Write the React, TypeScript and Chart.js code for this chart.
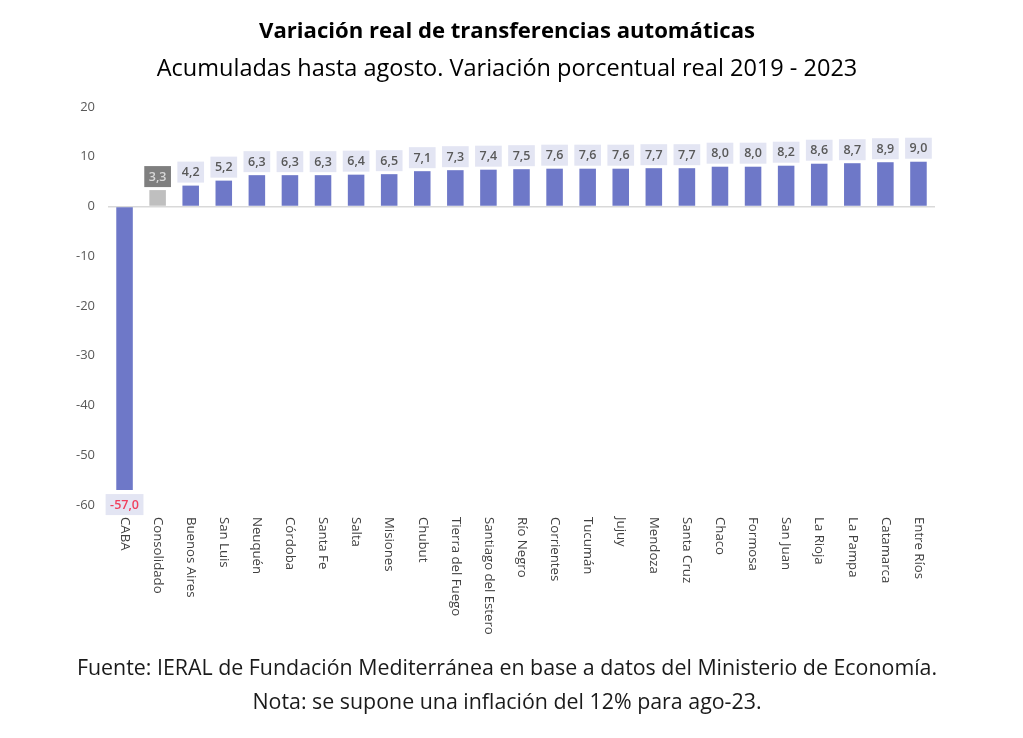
import React, { useEffect, useRef } from "react";
import { Chart, registerables } from "chart.js";

Chart.register(...registerables);

const categories = [
  "CABA", "Consolidado", "Buenos Aires", "San Luis", "Neuquén", "Córdoba", "Santa Fe", "Salta",
  "Misiones", "Chubut", "Tierra del Fuego", "Santiago del Estero", "Río Negro", "Corrientes",
  "Tucumán", "Jujuy", "Mendoza", "Santa Cruz", "Chaco", "Formosa", "San Juan", "La Rioja",
  "La Pampa", "Catamarca", "Entre Ríos",
];
const values = [
  -57.0, 3.3, 4.2, 5.2, 6.3, 6.3, 6.3, 6.4, 6.5, 7.1, 7.3, 7.4, 7.5, 7.6, 7.6, 7.6, 7.7, 7.7,
  8.0, 8.0, 8.2, 8.6, 8.7, 8.9, 9.0,
];
const yTicks = [20, 10, 0, -10, -20, -30, -40, -50, -60];
const title = "Variación real de transferencias automáticas";
const subtitle = "Acumuladas hasta agosto. Variación porcentual real 2019 - 2023";
const footLines = [
  "Fuente: IERAL de Fundación Mediterránea en base a datos del Ministerio de Economía.",
  "Nota: se supone una inflación del 12% para ago-23.",
];

const FONT = "'Open Sans', Lato, sans-serif";
const BAR = "#6e78c8";
const GREY_BAR = "#bfbfbf";

function fitFont(ctx: CanvasRenderingContext2D, text: string, target: number, weight: string) {
  ctx.font = `${weight} 20px ${FONT}`;
  const w = ctx.measureText(text).width;
  const size = (20 * target) / w;
  ctx.font = `${weight} ${size.toFixed(2)}px ${FONT}`;
}

export default function App() {
  const ref = useRef<HTMLCanvasElement | null>(null);

  useEffect(() => {
    document.body.style.margin = "0";
    const canvas = ref.current;
    if (!canvas) return;

    const overlay = {
      id: "overlay",
      afterDraw(chart: any) {
        const ctx = chart.ctx as CanvasRenderingContext2D;
        const xs = chart.scales.x;
        const meta = chart.getDatasetMeta(0);
        ctx.save();
        // titles
        ctx.fillStyle = "#000";
        ctx.textAlign = "center";
        ctx.textBaseline = "middle";
        fitFont(ctx, title, 496, "bold");
        ctx.fillText(title, 507, 32);
        fitFont(ctx, subtitle, 701, "normal");
        ctx.fillText(subtitle, 507, 69);
        ctx.fillStyle = "#1a1a1a";
        fitFont(ctx, footLines[0], 861, "normal");
        ctx.fillText(footLines[0], 507, 669);
        ctx.fillText(footLines[1], 507, 703);

        // rotated category labels
        ctx.fillStyle = "#404040";
        ctx.font = `13.2px ${FONT}`;
        categories.forEach((c, i) => {
          const x = xs.getPixelForValue(i);
          ctx.save();
          ctx.translate(x, chart.chartArea.bottom + 12);
          ctx.rotate(Math.PI / 2);
          ctx.textAlign = "left";
          ctx.textBaseline = "middle";
          ctx.fillText(c, 0, 0);
          ctx.restore();
        });

        // data labels
        ctx.font = `600 12.5px ${FONT}`;
        meta.data.forEach((bar: any, i: number) => {
          const v = values[i];
          const txt = v.toFixed(1).replace(".", ",");
          const w = ctx.measureText(txt).width + 9;
          const h = 21;
          let top: number;
          if (v < 0) top = bar.y + 4;
          else top = bar.y - 3 - h;
          let bg = "#e3e5f3";
          let fg = "#595959";
          if (i === 1) { bg = "#7f7f7f"; fg = "#d9d9d9"; }
          if (v < 0) { fg = "#f0405e"; }
          ctx.fillStyle = bg;
          ctx.fillRect(bar.x - w / 2, top, w, h);
          ctx.fillStyle = fg;
          ctx.textAlign = "center";
          ctx.textBaseline = "middle";
          ctx.fillText(txt, bar.x, top + h / 2 + 0.5);
        });
        ctx.restore();
      },
    };

    const chart = new Chart(canvas, {
      type: "bar",
      data: {
        labels: categories,
        datasets: [
          {
            data: values,
            backgroundColor: values.map((_, i) => (i === 1 ? GREY_BAR : BAR)),
            categoryPercentage: 1,
            barPercentage: 0.5,
          },
        ],
      },
      options: {
        responsive: false,
        animation: false,
        layout: { padding: { top: 107, right: 88, left: 0, bottom: 0 } },
        plugins: { legend: { display: false }, tooltip: { enabled: false }, title: { display: false } },
        scales: {
          x: {
            ticks: { display: false },
            grid: { display: false },
            border: { display: false },
            afterFit: (s: any) => { s.height = 233; },
          },
          y: {
            min: -60,
            max: 20,
            afterBuildTicks: (s: any) => { s.ticks = yTicks.map((v) => ({ value: v })); },
            ticks: {
              color: "#595959",
              font: { family: FONT, size: 13 },
              padding: 13,
              callback: (v: any) => String(v),
            },
            grid: {
              drawTicks: false,
              color: (c: any) => (c.tick && c.tick.value === 0 ? "#d9d9d9" : "rgba(0,0,0,0)"),
              lineWidth: 1.5,
            },
            border: { display: false },
            afterFit: (s: any) => { s.width = 108; },
          },
        },
      },
      plugins: [overlay],
    });
    return () => chart.destroy();
  }, []);

  return <canvas ref={ref} width={1023} height={738} style={{ display: "block" }} />;
}
